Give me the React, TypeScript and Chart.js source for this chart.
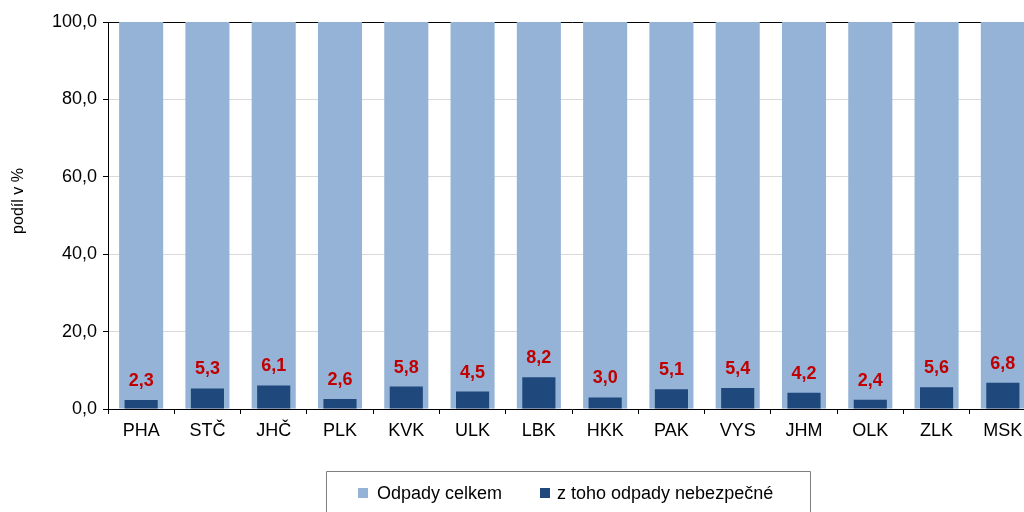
import React, { useEffect, useRef } from "react";
import { Chart, registerables } from "chart.js";

Chart.register(...registerables);

const categories = ["PHA", "STČ", "JHČ", "PLK", "KVK", "ULK", "LBK", "HKK", "PAK", "VYS", "JHM", "OLK", "ZLK", "MSK"];
const totalValues = [100, 100, 100, 100, 100, 100, 100, 100, 100, 100, 100, 100, 100, 100];
const hazardousValues = [2.3, 5.3, 6.1, 2.6, 5.8, 4.5, 8.2, 3.0, 5.1, 5.4, 4.2, 2.4, 5.6, 6.8];
const seriesNames = ["Odpady celkem", "z toho odpady nebezpečné"];
const yTicks = [0, 20, 40, 60, 80, 100];
const yTitle = "podíl v %";

const LIGHT = "#95b3d7";
const DARK = "#1f497d";
const RED = "#c00000";
const FONT = "'Liberation Sans', Arial, sans-serif";

const fmt = (v: number) => v.toFixed(1).replace(".", ",");

const labelPlugin = {
  id: "valueLabels",
  afterDatasetsDraw(chart: any) {
    const ctx = chart.ctx;
    const meta = chart.getDatasetMeta(1);
    ctx.save();
    ctx.font = `bold 18px ${FONT}`;
    ctx.fillStyle = RED;
    ctx.textAlign = "center";
    ctx.textBaseline = "alphabetic";
    meta.data.forEach((el: any, i: number) => {
      ctx.fillText(fmt(hazardousValues[i]), el.x, el.y - 14);
    });
    ctx.restore();
  },
  afterDraw(chart: any) {
    const ctx = chart.ctx;
    ctx.save();
    // axis title
    ctx.save();
    ctx.translate(19, 201);
    ctx.rotate(-Math.PI / 2);
    ctx.font = `16px ${FONT}`;
    ctx.fillStyle = "#000";
    ctx.textAlign = "center";
    ctx.textBaseline = "middle";
    ctx.fillText(yTitle, 0, 0);
    ctx.restore();
    // legend
    ctx.strokeStyle = "#7f7f7f";
    ctx.lineWidth = 1;
    ctx.beginPath();
    ctx.moveTo(326.5, 520);
    ctx.lineTo(326.5, 471.5);
    ctx.lineTo(810.5, 471.5);
    ctx.lineTo(810.5, 520);
    ctx.stroke();
    ctx.font = `18px ${FONT}`;
    ctx.textBaseline = "middle";
    ctx.textAlign = "left";
    const items = [
      { x: 358, color: LIGHT, tx: 377, text: seriesNames[0] },
      { x: 540, color: DARK, tx: 557, text: seriesNames[1] },
    ];
    items.forEach((it) => {
      ctx.fillStyle = it.color;
      ctx.fillRect(it.x, 488, 10, 10);
      ctx.fillStyle = "#000";
      ctx.fillText(it.text, it.tx, 494);
    });
    ctx.restore();
  },
};

export default function App() {
  const ref = useRef<HTMLCanvasElement>(null);
  useEffect(() => {
    document.body.style.overflow = "hidden";
    const chart = new Chart(ref.current!, {
      type: "bar",
      data: {
        labels: categories,
        datasets: [
          {
            label: seriesNames[0],
            data: totalValues,
            backgroundColor: LIGHT,
            borderWidth: 0,
            grouped: false,
            barPercentage: 0.665,
            categoryPercentage: 1,
            order: 2,
          },
          {
            label: seriesNames[1],
            data: hazardousValues,
            backgroundColor: DARK,
            borderWidth: 0,
            grouped: false,
            barPercentage: 0.5,
            categoryPercentage: 1,
            order: 1,
          },
        ],
      },
      options: {
        animation: false,
        responsive: false,
        layout: { padding: { top: 22, right: 4, left: 0, bottom: 0 } },
        plugins: {
          legend: { display: false },
          tooltip: { enabled: false },
        },
        scales: {
          x: {
            afterFit: (s: any) => {
              s.height = 103;
            },
            grid: {
              display: true,
              drawOnChartArea: false,
              drawTicks: true,
              tickLength: 5,
              tickColor: "#000",
              offset: true,
            },
            border: { display: true, color: "#000", width: 1 },
            ticks: {
              color: "#000",
              font: { family: FONT, size: 18 },
              padding: 6,
              maxRotation: 0,
            },
          },
          y: {
            min: 0,
            max: 100,
            afterFit: (s: any) => {
              s.width = 108;
            },
            afterBuildTicks: (s: any) => {
              s.ticks = yTicks.map((v) => ({ value: v }));
            },
            grid: {
              color: (c: any) =>
                c.tick && c.tick.value === 100 ? "#000" : c.tick && c.tick.value === 0 ? "rgba(0,0,0,0)" : "#d9d9d9",
              lineWidth: 1,
              tickLength: 5,
              tickColor: "#000",
            },
            border: { display: true, color: "#000", width: 1 },
            ticks: {
              color: "#000",
              font: { family: FONT, size: 18 },
              padding: 6,
              callback: (v: any) => fmt(Number(v)),
            },
            title: { display: false },
          },
        },
      },
      plugins: [labelPlugin],
    });
    return () => chart.destroy();
  }, []);
  return (
    <div style={{ position: "fixed", left: 0, top: 0, width: 1040, height: 512 }}>
      <canvas ref={ref} width={1040} height={512} style={{ width: 1040, height: 512 }} />
    </div>
  );
}
